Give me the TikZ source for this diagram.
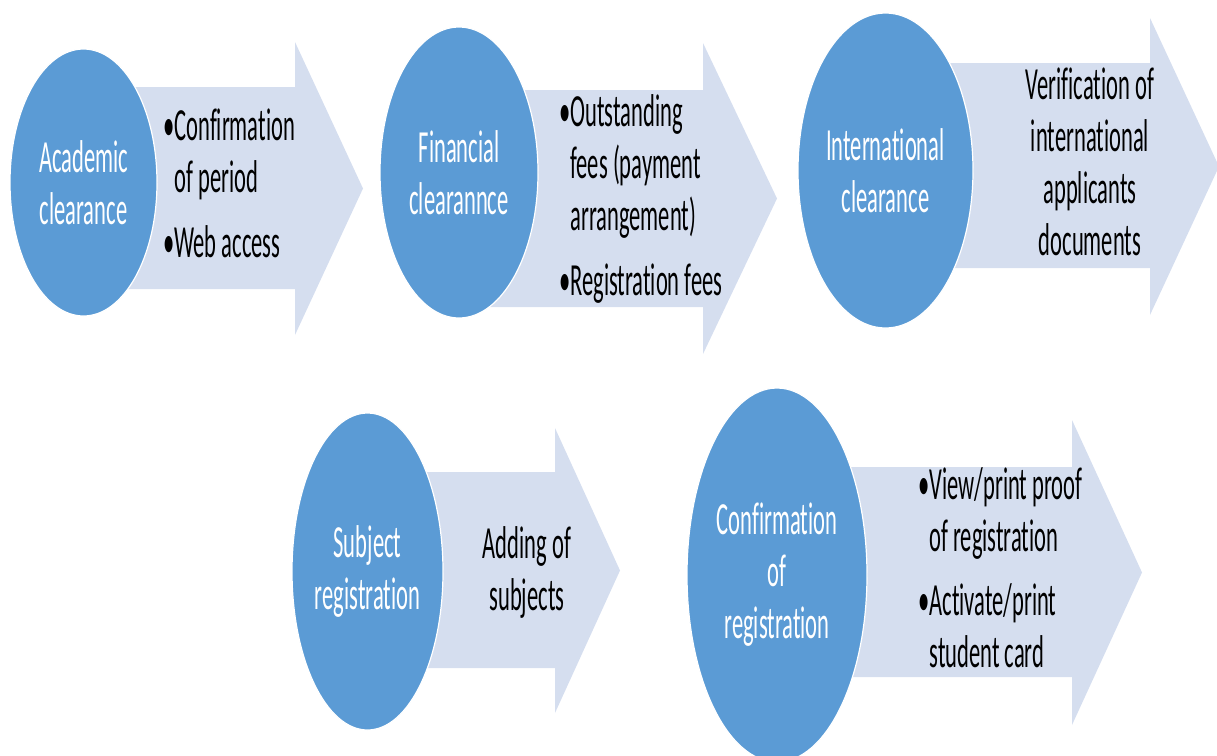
\documentclass[tikz,border=0pt]{standalone}
\usepackage{fontspec}
\setmainfont{Carlito}[FakeStretch=0.49, Ligatures=CommonOff]
\usepackage{tikz}
\usetikzlibrary{shapes.geometric}
\definecolor{stageblue}{RGB}{91,155,213}
\definecolor{bandgray}{RGB}{213,222,239}
\tikzset{every node/.style={font=\fontsize{46}{52}\selectfont, inner sep=0pt}}
\tikzset{stage/.style={ellipse, fill=stageblue, draw=white, line width=1.2pt, text=white, align=center}}
\tikzset{band/.style={fill=bandgray}}

\begin{document}
\begin{tikzpicture}[x=1pt, y=-1pt]
    \useasboundingbox (0, 0) rectangle (1217, 755);
    \clip (0, 0) rectangle (1217, 755);

    % block arrows behind the stages
    \fill[band] (83,87) -- (295,87) -- (295,42) -- (363,188.5) -- (295,335) -- (295,289) -- (83,289) -- cycle;
    \fill[band] (459,90) -- (703,90) -- (703,43) -- (777,198.5) -- (703,354) -- (703,307) -- (459,307) -- cycle;
    \fill[band] (886,63) -- (1150,63) -- (1150,18) -- (1219,166.5) -- (1150,315) -- (1150,268) -- (886,268) -- cycle;
    \fill[band] (367,472) -- (555,472) -- (555,428) -- (620,570.5) -- (555,713) -- (555,668) -- (367,668) -- cycle;
    \fill[band] (777,467) -- (1072,467) -- (1072,420) -- (1142,572.5) -- (1072,725) -- (1072,677) -- (777,677) -- cycle;

    \node[stage, minimum width=147, minimum height=267] at (83.5, 182.5) (acad) {Academic\\clearance};
    \node[stage, minimum width=158, minimum height=291] at (459, 172.5) (fin) {Financial\\clearannce};
    \node[stage, minimum width=175, minimum height=315] at (885.5, 170.5) (intl) {International\\clearance};
    \node[stage, minimum width=151, minimum height=317] at (367.5, 571.5) (subj) {Subject\\registration};
    \node[stage, minimum width=180, minimum height=374] at (777, 575) (conf) {Confirmation\\of\\registration};

    % lists: anchored on the baseline of their last line
    \node[anchor=base west, align=left] at (163, 257) (acadlist) {•Confirmation\\\phantom{•}of period\\[13pt]•Web access};
    \node[anchor=base west, align=left] at (559, 295) (finlist) {•Outstanding\\\phantom{•}fees (payment\\\phantom{•}arrangement)\\[13pt]•Registration fees};
    \node[anchor=base, align=center] at (1090, 255) (intllist) {Verification of\\international\\applicants\\documents};
    \node[anchor=base, align=center] at (527, 610) (subjlist) {Adding of\\subjects};
    \node[anchor=base west, align=left] at (918, 667) (conflist) {•View/print proof\\\phantom{•}of registration\\[12pt]•Activate/print\\\phantom{•}student card};
\end{tikzpicture}
\end{document}
